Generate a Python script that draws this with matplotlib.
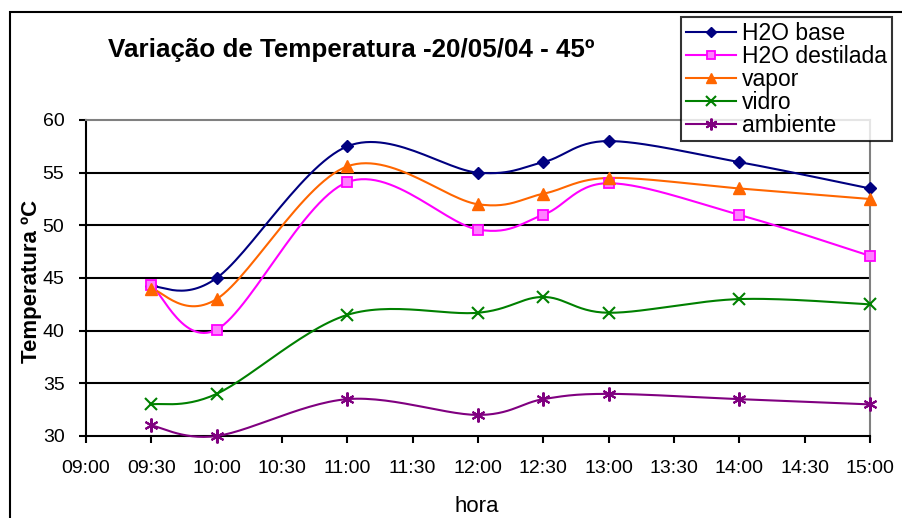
import numpy as np
import matplotlib
matplotlib.use("Agg")
import matplotlib.pyplot as plt
from matplotlib.patches import Rectangle

plt.rcParams['font.family'] = ['Liberation Sans', 'DejaVu Sans']

# ---- data ----
hours = [9.5, 10.0, 11.0, 12.0, 12.5, 13.0, 14.0, 15.0]
h2o_base = [44.2, 45.0, 57.5, 55.0, 56.0, 58.0, 56.0, 53.5]
h2o_destilada = [44.3, 40.1, 54.1, 49.6, 51.0, 54.0, 51.0, 47.1]
vapor = [44.0, 43.0, 55.6, 52.0, 53.0, 54.5, 53.5, 52.5]
vidro = [33.0, 34.0, 41.5, 41.7, 43.2, 41.7, 43.0, 42.5]
ambiente = [31.0, 30.0, 33.5, 32.0, 33.5, 34.0, 33.5, 33.0]
series_names = ['H2O base', 'H2O destilada', 'vapor', 'vidro', 'ambiente']
tick_hours = [9.0, 9.5, 10.0, 10.5, 11.0, 11.5, 12.0, 12.5, 13.0, 13.5, 14.0, 14.5, 15.0]
tick_labels = ['09:00', '09:30', '10:00', '10:30', '11:00', '11:30', '12:00',
               '12:30', '13:00', '13:30', '14:00', '14:30', '15:00']
y_ticks = [30, 35, 40, 45, 50, 55, 60]

W, H = 902, 518
fig = plt.figure(figsize=(W / 100, H / 100), dpi=100)
L, R, T, B = 86, 870, 120, 436
ax = fig.add_axes([L / W, 1 - B / H, (R - L) / W, (B - T) / H])
ax.set_xlim(9.0, 15.0)
ax.set_ylim(30, 60)

# chart-area border
fig.add_artist(Rectangle((10 / W, -0.1), 1.2, 1 - 12 / H + 0.1, transform=fig.transFigure,
                         fill=False, edgecolor='black', linewidth=1.5))


def smooth(xs, ys, n=30):
    # Excel-like smoothed line drawn as Bezier in pixel space
    sx = (R - L) / 6.0
    sy = (B - T) / 30.0
    P = np.column_stack([np.array(xs) * sx, np.array(ys) * sy])
    out = []
    for i in range(len(P) - 1):
        p0 = P[i - 1] if i > 0 else P[i]
        p1 = P[i]
        p2 = P[i + 1]
        p3 = P[i + 2] if i + 2 < len(P) else P[i + 1]
        c1 = p1 + (p2 - p0) / 6.0
        c2 = p2 - (p3 - p1) / 6.0
        t = np.linspace(0, 1, n)[:, None]
        seg = ((1 - t) ** 3) * p1 + 3 * ((1 - t) ** 2) * t * c1 + 3 * (1 - t) * t ** 2 * c2 + t ** 3 * p2
        out.append(seg if i == 0 else seg[1:])
    C = np.vstack(out)
    return C[:, 0] / sx, C[:, 1] / sy


styles = [
    dict(color='#000080', marker='D', ms=6.5, mfc='#000080', mec='#000080'),
    dict(color='#FF00FF', marker='s', ms=7, mfc='#FF80FF', mec='#FF00FF', mew=1.3),
    dict(color='#FF6600', marker='^', ms=9, mfc='#FF6600', mec='#FF6600'),
    dict(color='#008000', marker='x', ms=9, mfc='#008000', mec='#008000', mew=1.5),
    dict(color='#800080', marker=(6, 2, 0), ms=10, mfc='#800080', mec='#800080', mew=1.5),
]
data = [h2o_base, h2o_destilada, vapor, vidro, ambiente]

handles = []
for name, ys, st in zip(series_names, data, styles):
    cx, cy = smooth(hours, ys)
    ax.plot(cx, cy, color=st['color'], lw=1.5, zorder=3, clip_on=False)
    ax.plot(hours, ys, linestyle='none', marker=st['marker'], markersize=st['ms'],
            markerfacecolor=st['mfc'], markeredgecolor=st['mec'],
            markeredgewidth=st.get('mew', 1.0), zorder=4, clip_on=False)
    h, = ax.plot([], [], color=st['color'], lw=1.5, marker=st['marker'],
                 markersize=st['ms'] * 0.85, markerfacecolor=st['mfc'],
                 markeredgecolor=st['mec'], markeredgewidth=st.get('mew', 1.0), label=name)
    handles.append(h)

for yv in y_ticks[1:-1]:
    ax.axhline(yv, color='black', lw=1.5, zorder=1)

for side in ['top', 'right']:
    ax.spines[side].set_color('#808080')
    ax.spines[side].set_linewidth(1.5)
for side in ['left', 'bottom']:
    ax.spines[side].set_color('black')
    ax.spines[side].set_linewidth(1.5)

ax.set_xticks(tick_hours)
ax.set_xticklabels(tick_labels)
ax.set_yticks(y_ticks)
ax.tick_params(axis='both', direction='out', length=5, width=1.5, labelsize=14, colors='black')
ax.tick_params(axis='x', pad=12)
ax.tick_params(axis='y', pad=10.5)

fig.text(477 / W, 1 - 512 / H, 'hora', ha='center', va='baseline', fontsize=16)
fig.text(37 / W, 1 - 281.7 / H, 'Temperatura ºC', ha='center', va='baseline', rotation=90,
         rotation_mode='anchor', fontsize=16, fontweight='bold')

fig.text(351.5 / W, 1 - 57 / H, 'Variação de Temperatura -20/05/04 - 45º', ha='center',
         va='baseline', fontsize=18.7, fontweight='bold')

leg = fig.legend(handles=handles, loc='upper left', bbox_to_anchor=(681 / W, 1 - 17 / H),
                 fontsize=16.5, frameon=True, fancybox=False, edgecolor='black',
                 borderpad=0.2, labelspacing=0.0, handlelength=2.2, handletextpad=0.26,
                 borderaxespad=0)
leg.get_frame().set_linewidth(1.5)
leg.set_zorder(10)

fig.savefig('out.png', dpi=100)
